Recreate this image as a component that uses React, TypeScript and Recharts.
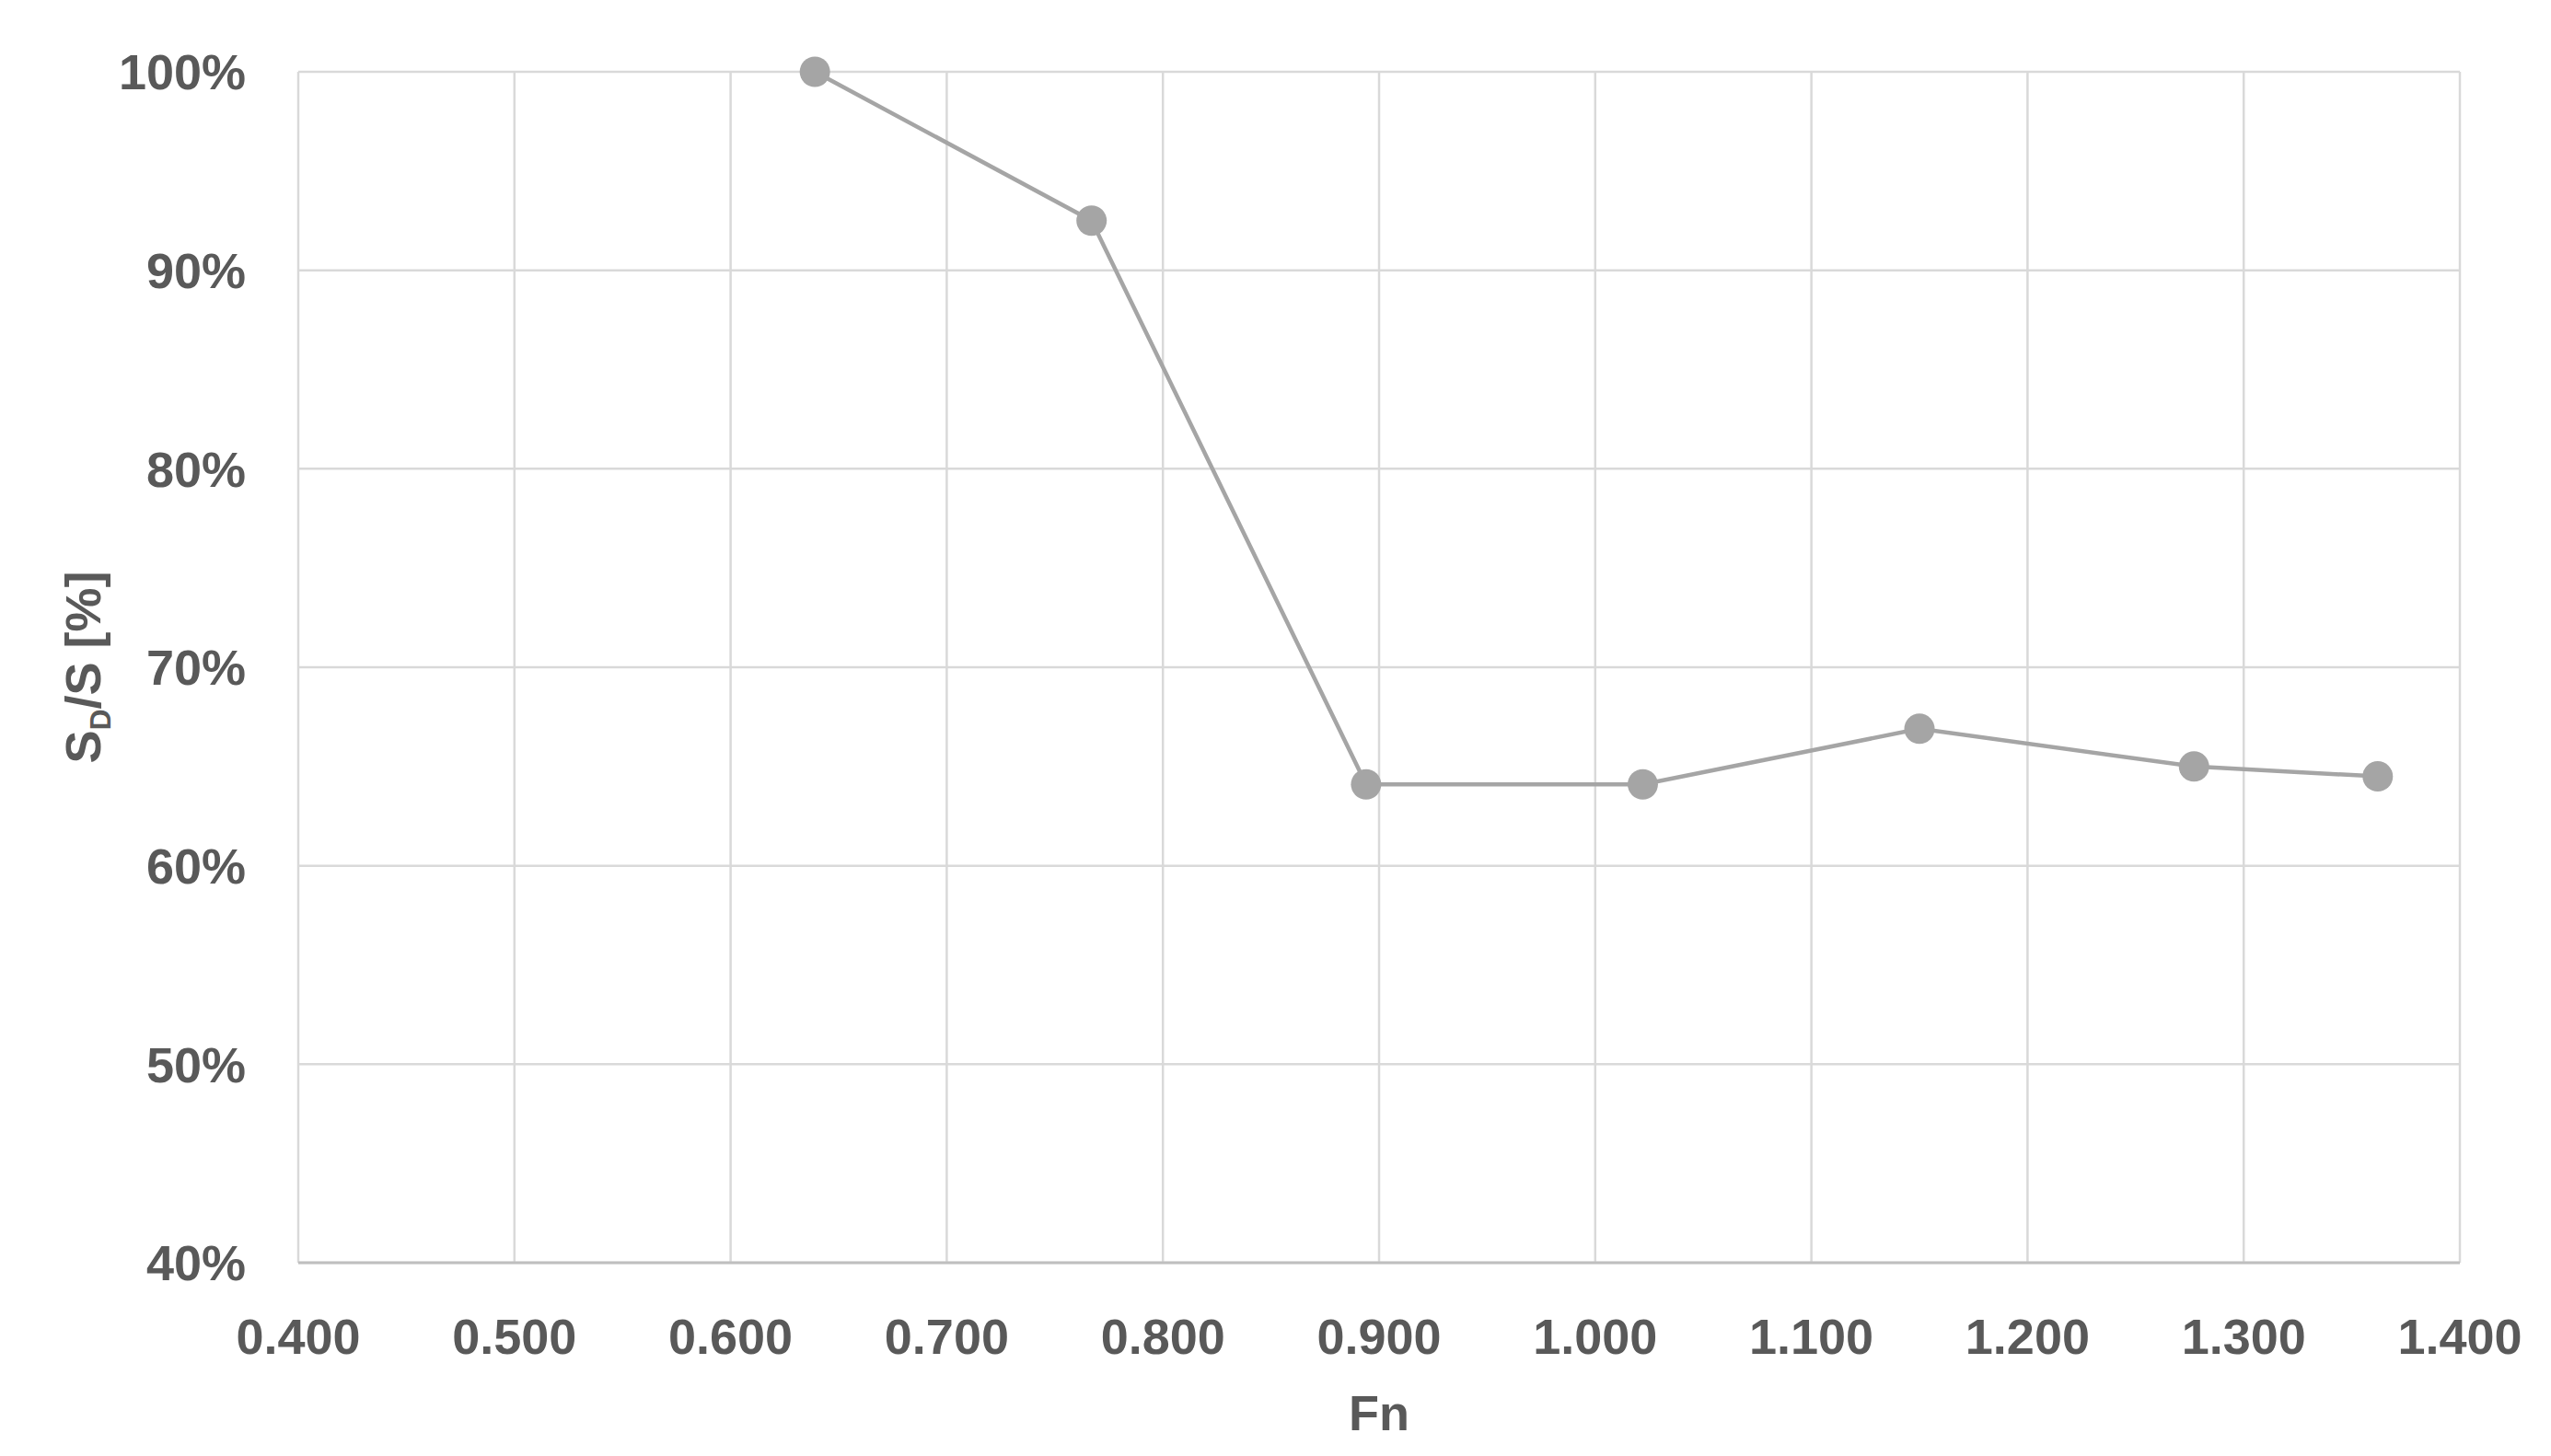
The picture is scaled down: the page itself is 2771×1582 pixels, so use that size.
import {
  CartesianGrid,
  Label,
  Line,
  LineChart,
  XAxis,
  YAxis,
} from "recharts";

// Froude number vs. S_D/S share
const fnValues = [0.639, 0.767, 0.894, 1.022, 1.15, 1.277, 1.362];
const ratioValues = [100.0, 92.5, 64.1, 64.1, 66.9, 65.0, 64.5];

const xTicks = [0.4, 0.5, 0.6, 0.7, 0.8, 0.9, 1.0, 1.1, 1.2, 1.3, 1.4];
const yTicks = [40, 50, 60, 70, 80, 90, 100];

const data = fnValues.map((fn, i) => ({ fn, ratio: ratioValues[i] }));

const FONT = "'Liberation Sans', Arial, sans-serif";
const TEXT = "#595959";
const GREY = "#a5a5a5";

const tickStyle = {
  fill: TEXT,
  fontSize: 54,
  fontWeight: 700,
  fontFamily: FONT,
};

function YAxisTitle(props: any) {
  const vb = props.viewBox || {};
  const cx = (vb.x ?? 0) + 82;
  const cy = (vb.y ?? 0) + (vb.height ?? 0) / 2;
  return (
    <text
      x={cx}
      y={cy}
      transform={`rotate(-90, ${cx}, ${cy})`}
      textAnchor="middle"
      dy="0.355em"
      fill={TEXT}
      fontSize={54}
      fontWeight={700}
      fontFamily={FONT}
    >
      S
      <tspan fontSize={32} dy={11}>
        D
      </tspan>
      <tspan dy={-11}>/S [%]</tspan>
    </text>
  );
}

export default function App() {
  return (
    <LineChart
      width={2755}
      height={1566}
      data={data}
      margin={{ top: 70, right: 91, left: 0, bottom: 0 }}
    >
      <CartesianGrid stroke="#d9d9d9" strokeWidth={2.5} />
      <XAxis
        dataKey="fn"
        type="number"
        domain={[0.4, 1.4]}
        ticks={xTicks}
        tickFormatter={(v: number) => v.toFixed(3)}
        tick={tickStyle}
        tickLine={false}
        tickSize={0}
        tickMargin={61}
        height={202}
        stroke="#bfbfbf"
        strokeWidth={3}
        interval={0}
      >
        <Label
          value="Fn"
          position="insideBottom"
          offset={20}
          fill={TEXT}
          fontSize={54}
          fontWeight={700}
          fontFamily={FONT}
        />
      </XAxis>
      <YAxis
        type="number"
        domain={[40, 100]}
        ticks={yTicks}
        tickFormatter={(v: number) => `${v}%`}
        tick={tickStyle}
        tickLine={false}
        axisLine={false}
        tickSize={0}
        tickMargin={57}
        width={316}
        interval={0}
      >
        <Label content={YAxisTitle} />
      </YAxis>
      <Line
        type="linear"
        dataKey="ratio"
        stroke={GREY}
        strokeWidth={4.5}
        dot={{ r: 16.5, fill: GREY, stroke: GREY, strokeWidth: 0 }}
        activeDot={false}
        isAnimationActive={false}
      />
    </LineChart>
  );
}
